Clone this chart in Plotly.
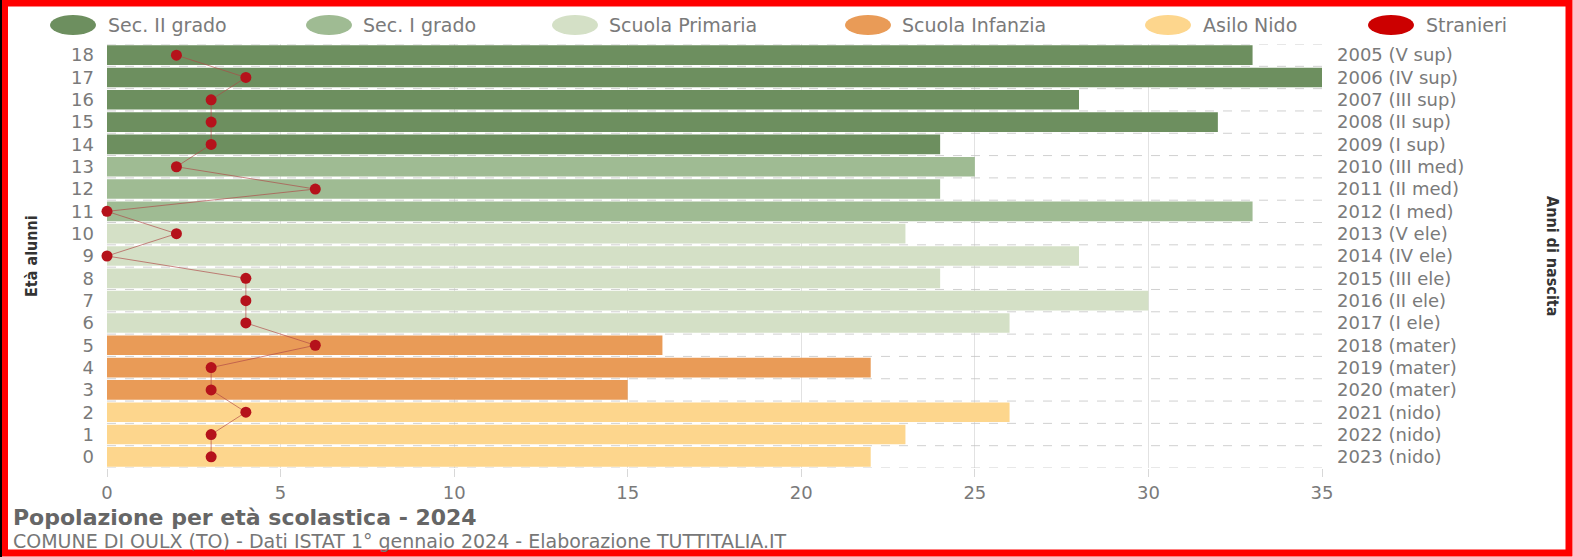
import plotly.graph_objects as go

# ---------------- data ----------------
ages = list(range(0, 19))
birth_labels = ["2023 (nido)", "2022 (nido)", "2021 (nido)", "2020 (mater)", "2019 (mater)",
                "2018 (mater)", "2017 (I ele)", "2016 (II ele)", "2015 (III ele)", "2014 (IV ele)",
                "2013 (V ele)", "2012 (I med)", "2011 (II med)", "2010 (III med)", "2009 (I sup)",
                "2008 (II sup)", "2007 (III sup)", "2006 (IV sup)", "2005 (V sup)"]
alunni = [22, 23, 26, 15, 22, 16, 26, 30, 24, 28, 23, 33, 24, 25, 24, 32, 28, 35, 33]
stranieri = [3, 3, 4, 3, 3, 6, 4, 4, 4, 0, 2, 0, 6, 2, 3, 3, 3, 4, 2]

groups = ["Asilo Nido", "Scuola Infanzia", "Scuola Primaria", "Sec. I grado", "Sec. II grado"]
group_ages = [[0, 1, 2], [3, 4, 5], [6, 7, 8, 9, 10], [11, 12, 13], [14, 15, 16, 17, 18]]
group_colors = ["#fdd68d", "#e99b57", "#d4e0c6", "#9fbb93", "#6d8f5f"]
legend_order = ["Sec. II grado", "Sec. I grado", "Scuola Primaria", "Scuola Infanzia", "Asilo Nido", "Stranieri"]
stranieri_color = "#cc0000"

title = "Popolazione per età scolastica - 2024"
subtitle = "COMUNE DI OULX (TO) - Dati ISTAT 1° gennaio 2024 - Elaborazione TUTTITALIA.IT"

# ---------------- layout geometry ----------------
W, H = 1573, 557
L, R, T, B = 107, 251, 44, 89
PW, PH = W - L - R, H - T - B


def px2x(px):
    return (px - L) / PW


def py2y(py):
    return (H - B - py) / PH


FONT = "DejaVu Sans"
GREY = "#7a7a7a"

fig = go.Figure()

for name, ag, col in zip(groups, group_ages, group_colors):
    fig.add_trace(go.Bar(
        x=[alunni[a] for a in ag], y=ag, orientation="h", name=name,
        marker=dict(color=col, line=dict(width=0)), showlegend=False,
    ))

fig.add_trace(go.Scatter(
    x=stranieri, y=ages, mode="lines+markers", name="Stranieri", showlegend=False,
    line=dict(color="rgba(175,70,70,0.65)", width=1),
    marker=dict(color="#b5121b", size=11), cliponaxis=False,
))

# invisible trace for the right axis
fig.add_trace(go.Scatter(
    x=[0] * len(ages), y=ages, yaxis="y2", mode="markers",
    marker=dict(opacity=0), showlegend=False, hoverinfo="skip",
))

shapes = []
# dashed horizontal separators between rows
for k in range(-1, 19):
    shapes.append(dict(type="line", xref="paper", yref="y", x0=0, x1=1, y0=k + 0.5, y1=k + 0.5,
                       line=dict(color="#d0d0d0", width=1, dash="dash"), layer="below"))

# custom legend
leg_cx = [73, 329, 575, 868, 1168, 1391]
leg_tx = [106, 361, 607, 900, 1201, 1424]
leg_colors = {g: c for g, c in zip(groups, group_colors)}
leg_colors["Stranieri"] = stranieri_color
annotations = []
for name, cx, tx in zip(legend_order, leg_cx, leg_tx):
    shapes.append(dict(type="circle", xref="paper", yref="paper",
                       x0=px2x(cx - 23), x1=px2x(cx + 23), y0=py2y(35), y1=py2y(15),
                       fillcolor=leg_colors[name], line=dict(width=0)))
    annotations.append(dict(text=name, xref="paper", yref="paper", x=px2x(tx), y=py2y(25),
                            xanchor="left", yanchor="middle", showarrow=False,
                            font=dict(family=FONT, size=19, color=GREY)))

# frame
shapes.append(dict(type="rect", xref="paper", yref="paper",
                   x0=px2x(4.5), x1=px2x(W - 4), y0=py2y(H - 4), y1=py2y(3),
                   line=dict(color="#ff0000", width=7)))
shapes.append(dict(type="line", xref="paper", yref="paper",
                   x0=px2x(1), x1=px2x(1), y0=py2y(H), y1=py2y(0),
                   line=dict(color="#000000", width=2)))

# titles
annotations.append(dict(text="<b>" + title + "</b>", xref="paper", yref="paper", x=px2x(11), y=py2y(517),
                        xanchor="left", yanchor="middle", showarrow=False,
                        font=dict(family=FONT, size=22, color="#666666")))
annotations.append(dict(text=subtitle, xref="paper", yref="paper", x=px2x(11), y=py2y(541),
                        xanchor="left", yanchor="middle", showarrow=False,
                        font=dict(family=FONT, size=19, color="#777777")))
annotations.append(dict(text="<b>Età alunni</b>", xref="paper", yref="paper", x=px2x(31), y=py2y(256),
                        xanchor="center", yanchor="middle", showarrow=False, textangle=-90,
                        font=dict(family="DejaVu Sans Condensed, Liberation Sans", size=16, color="#333333")))
annotations.append(dict(text="<b>Anni di nascita</b>", xref="paper", yref="paper", x=px2x(1553), y=py2y(256),
                        xanchor="center", yanchor="middle", showarrow=False, textangle=90,
                        font=dict(family="DejaVu Sans Condensed, Liberation Sans", size=16, color="#333333")))

fig.update_layout(
    width=W, height=H,
    margin=dict(l=L, r=R, t=T, b=B, pad=0),
    paper_bgcolor="white", plot_bgcolor="white",
    barmode="overlay", bargap=0.12,
    showlegend=False,
    font=dict(family=FONT, color=GREY),
    xaxis=dict(range=[0, 35], tickvals=[0, 5, 10, 15, 20, 25, 30, 35],
               showgrid=True, gridcolor="rgba(190,190,190,0.45)", gridwidth=1,
               zeroline=False, showline=False, layer="above traces",
               ticks="outside", ticklen=8, tickcolor="#d8d8d8",
               tickfont=dict(family=FONT, size=18, color=GREY), fixedrange=True),
    yaxis=dict(range=[-0.5, 18.5], tickvals=ages, ticktext=[str(a) for a in ages],
               showgrid=False, zeroline=False, showline=False, ticks="",
               ticklabelstandoff=12,
               tickfont=dict(family=FONT, size=18, color=GREY), fixedrange=True),
    yaxis2=dict(range=[-0.5, 18.5], overlaying="y", side="right", tickvals=ages,
                ticktext=birth_labels, showgrid=False, zeroline=False, showline=False,
                ticks="", ticklabelstandoff=14,
                tickfont=dict(family=FONT, size=18, color=GREY), fixedrange=True),
    shapes=shapes,
    annotations=annotations,
)

fig.write_html("out.html", config={"displayModeBar": False},
               post_script="document.body.style.margin='0';document.body.style.overflow='hidden';")
